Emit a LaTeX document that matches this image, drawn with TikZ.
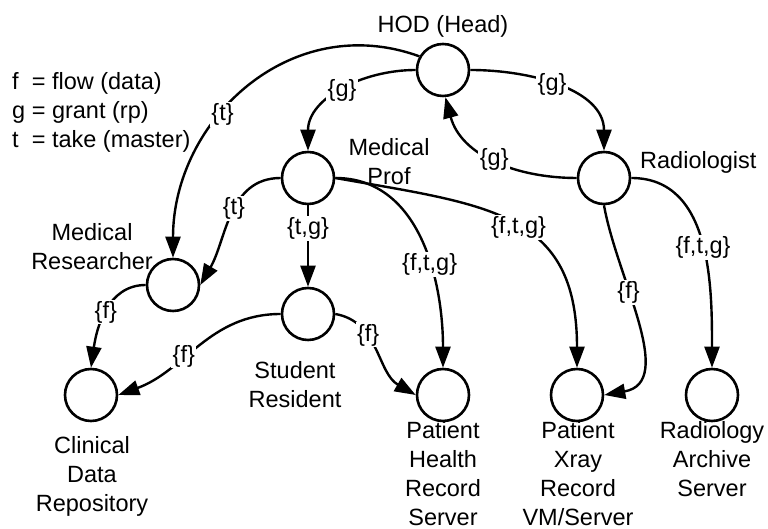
\documentclass[tikz,border=0pt]{standalone}
\usepackage{fontspec}
\setmainfont{Liberation Sans}
\usetikzlibrary{arrows.meta}
\tikzset{
  role/.style={circle, draw, line width=2.6pt, minimum size=52pt, inner sep=0pt},
  rel/.style={line width=2.4pt, -{Triangle[length=21pt,width=15pt]}},
  lbl/.style={fill=white, inner sep=1.5pt},
  roletxt/.style={align=center, inner sep=0pt, anchor=north}
}
\begin{document}
\begin{tikzpicture}[x=1pt,y=1pt,font=\fontsize{23.5}{29}\selectfont]
  \useasboundingbox (0,0) rectangle (768,529);
  \node[role] (hod) at (443,459) {};
  \node[role] (mp) at (308,351) {};
  \node[role] (rad) at (604,351) {};
  \node[role] (mr) at (173,244) {};
  \node[role] (sr) at (308,215) {};
  \node[role] (cdr) at (91,134) {};
  \node[role] (phrs) at (443,134) {};
  \node[role] (px) at (577,134) {};
  \node[role] (ras) at (712,134) {};

  \node[inner sep=0pt, anchor=base] (hodtxt) at (443,496) {HOD (Head)};
  \node[roletxt] (mptxt) at (389,391) {Medical\\Prof};
  \node[inner sep=0pt, anchor=base west] (radtxt) at (640,360) {Radiologist};
  \node[roletxt] (mrtxt) at (92,306) {Medical\\Researcher};
  \node[roletxt] (srtxt) at (295,168) {Student\\Resident};
  \node[roletxt] (cdrtxt) at (92,93) {Clinical\\Data\\Repository};
  \node[roletxt] (phrstxt) at (443,108) {Patient\\Health\\Record\\Server};
  \node[roletxt] (pxtxt) at (578,108) {Patient\\Xray\\Record\\VM/Server};
  \node[roletxt] (rastxt) at (712,108) {Radiology\\Archive\\Server};
  \node[align=left, inner sep=0pt, anchor=north west] (legend) at (12,457)
    {f\ \ = flow (data)\\g = grant (rp)\\t\ \ = take (master)};

  \draw[rel] (hod.west) to[out=180,in=90] node[lbl] (g1) {\{g\}} (mp.north);
  \draw[rel] (hod.150) to[out=160,in=90,looseness=1.1] node[lbl,pos=0.6] (t1) {\{t\}} (mr.north);
  \draw[rel] (mp.west) to[out=180,in=60] node[lbl,pos=0.45] (t2) {\{t\}} (mr.east);
  \draw[rel] (mp.south) -- node[lbl,pos=0.28] (tg1) {\{t,g\}} (sr.north);
  \draw[rel] (mp.east) to[out=0,in=90] node[lbl,pos=0.6] (ftg1) {\{f,t,g\}} (phrs.north);
  \draw[rel] (mp.east) to[out=-10,in=90,looseness=1.3] node[lbl,pos=0.52] (ftg2) {\{f,t,g\}} (px.north);
  \draw[rel] (hod.east) to[out=0,in=90] node[lbl,pos=0.45] (g2) {\{g\}} (rad.north);
  \draw[rel] (rad.west) to[out=180,in=-75] node[lbl] (g3) {\{g\}} (hod.-85);
  \draw[rel] (rad.east) to[out=0,in=90] node[lbl,pos=0.52] (ftg3) {\{f,t,g\}} (ras.north);
  \draw[rel] (rad.south) to[out=-80,in=10] node[lbl,pos=0.37] (f1) {\{f\}} (px.east);
  \draw[rel] (mr.west) to[out=180,in=82] node[lbl] (f2) {\{f\}} (cdr.north);
  \draw[rel] (sr.west) to[out=180,in=20] node[lbl,pos=0.6] (f3) {\{f\}} (cdr.east);
  \draw[rel] (sr.east) to[out=-10,in=150] node[lbl,pos=0.35] (f4) {\{f\}} (phrs.west);
\end{tikzpicture}
\end{document}
